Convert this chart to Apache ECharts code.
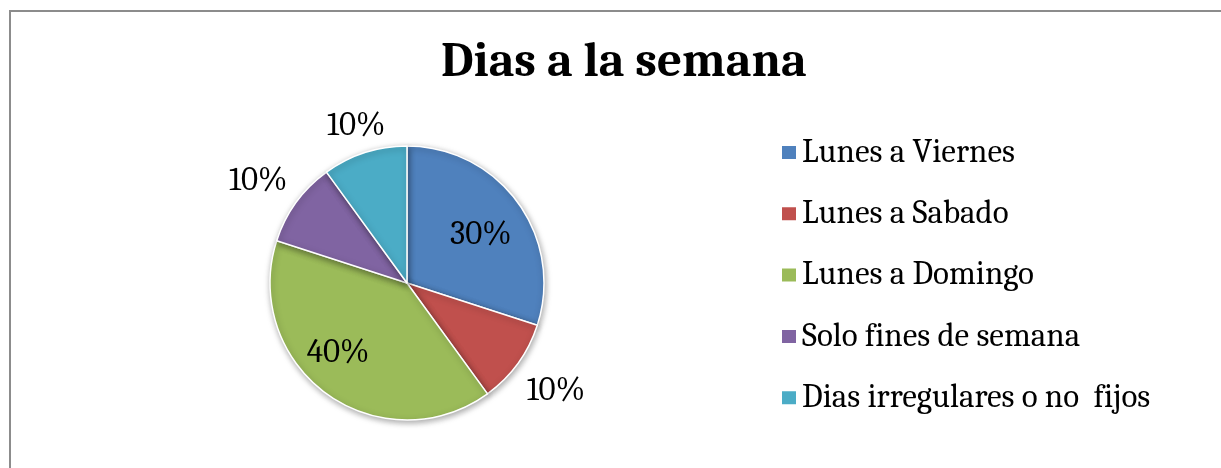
<!DOCTYPE html>
<html>
<head>
<meta charset="utf-8">
<script src="https://cdn.jsdelivr.net/npm/echarts@6/dist/echarts.min.js"></script>
<style>
  html, body { margin: 0; padding: 0; background: #fff; overflow: hidden; }
  #frame { position: absolute; left: 9px; top: 10px; width: 1400px; height: 600px; border: 2px solid #8c8c8c; box-sizing: border-box; }
  #main { position: absolute; left: 0; top: 0; width: 1221px; height: 468px; }
</style>
</head>
<body>
<div id="frame"></div>
<div id="main"></div>
<script>
  // datos del grafico
  var titulo = "Dias a la semana";
  var categorias = ["Lunes a Viernes", "Lunes a Sabado", "Lunes a Domingo", "Solo fines de semana", "Dias irregulares o no  fijos"];
  var valores = [30, 10, 40, 10, 10];
  var colores = ["#4F81BD", "#C0504D", "#9BBB59", "#8064A2", "#4BACC6"];
  var fuera = [false, true, false, true, true]; // etiqueta fuera del pastel

  var serif = "Cambria, 'DejaVu Serif', serif";

  var myChart = echarts.init(document.getElementById("main"));

  var datos = categorias.map(function(c, i) {
    return { name: c, value: valores[i] };
  });

  // ajustes finos de etiquetas
  var ajusteDentro = { 0: [16, -6], 2: [-27, 12] };
  var ajusteFuera = { 3: [0, 6], 4: [6, 18] };

  myChart.setOption({
    animation: false,
    color: colores,
    title: {
      text: titulo,
      left: 436,
      top: 33,
      textStyle: { fontFamily: serif, fontSize: 49, fontWeight: "bold", color: "#000" }
    },
    legend: {
      orient: "vertical",
      left: 775,
      top: 131,
      icon: "rect",
      itemWidth: 16,
      itemHeight: 15,
      itemGap: 28.3,
      data: categorias,
      textStyle: { fontFamily: serif, fontSize: 33, color: "#000", lineHeight: 30 }
    },
    series: [
      {
        name: "dias",
        type: "pie",
        center: [407, 283],
        radius: [0, 137],
        startAngle: 90,
        clockwise: true,
        itemStyle: {
          borderColor: "#fff",
          borderWidth: 1.5,
          shadowBlur: 6,
          shadowColor: "rgba(0,0,0,0.35)",
          shadowOffsetX: 1,
          shadowOffsetY: 2
        },
        label: {
          position: "inside",
          formatter: function(p) { return fuera[p.dataIndex] ? "" : p.value + "%"; },
          fontFamily: serif,
          fontSize: 33,
          color: "#000"
        },
        labelLine: { show: false },
        labelLayout: function(p) {
          var a = ajusteDentro[p.dataIndex];
          return a ? { dx: a[0], dy: a[1] } : {};
        },
        emphasis: { disabled: true },
        data: datos
      },
      {
        name: "etiquetas",
        type: "pie",
        center: [407, 283],
        radius: [172, 190],
        startAngle: 90,
        silent: true,
        legendHoverLink: false,
        itemStyle: { color: "rgba(0,0,0,0)" },
        label: {
          position: "inside",
          formatter: function(p) { return fuera[p.dataIndex] ? p.value + "%" : ""; },
          fontFamily: serif,
          fontSize: 33,
          color: "#000"
        },
        labelLine: { show: false },
        labelLayout: function(p) {
          var a = ajusteFuera[p.dataIndex];
          return a ? { dx: a[0], dy: a[1] } : {};
        },
        emphasis: { disabled: true },
        tooltip: { show: false },
        data: categorias.map(function(c, i) { return { name: c + " ", value: valores[i] }; })
      }
    ]
  });
</script>
</body>
</html>
